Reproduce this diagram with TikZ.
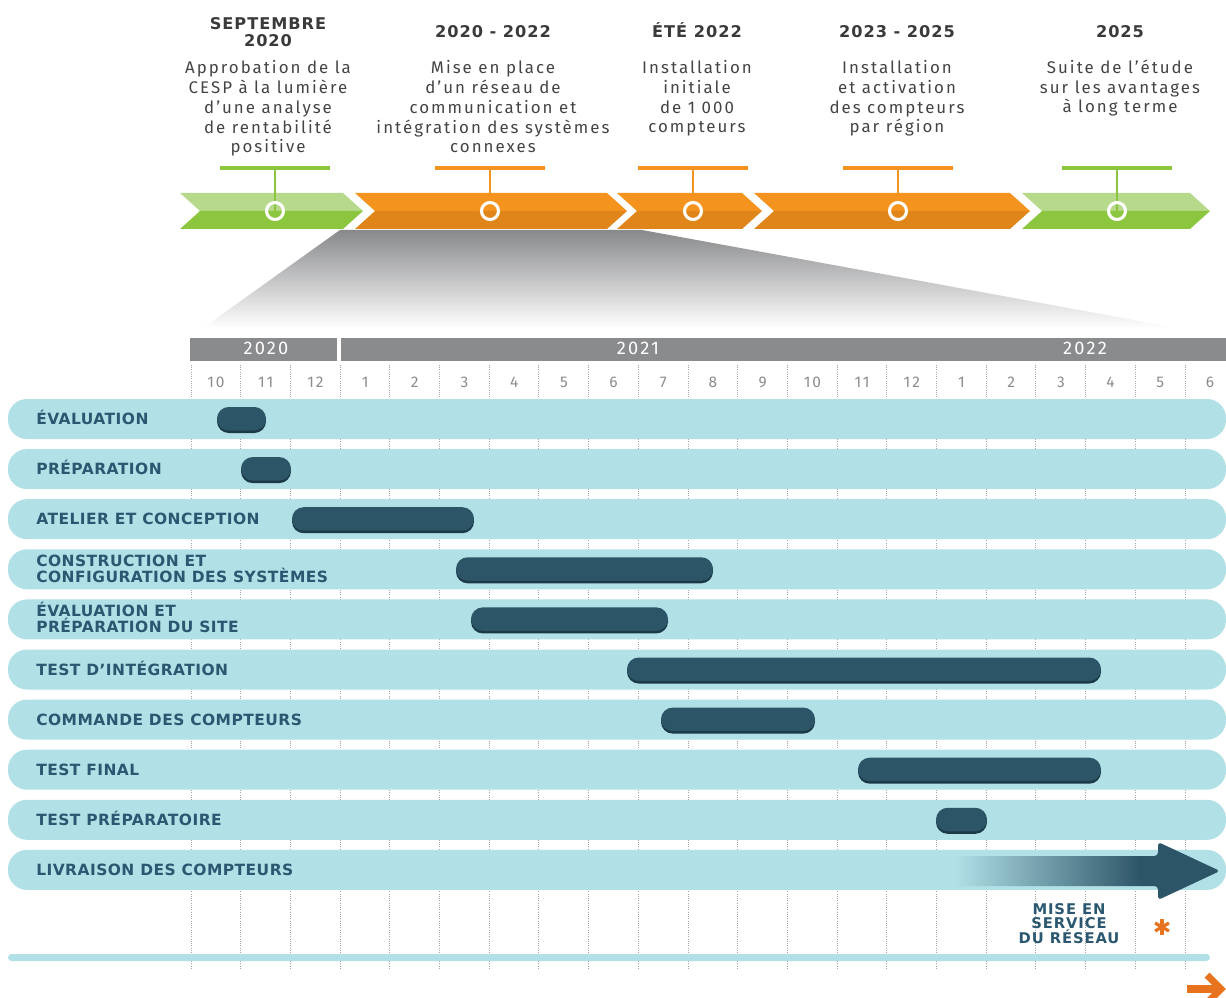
\documentclass[tikz,border=0pt]{standalone}
\usepackage{fontspec}
\usetikzlibrary{arrows.meta}
\setmainfont{Fira Sans}
\newfontfamily\descfont{Fira Sans}[LetterSpace=12]
\newfontfamily\headfont{DejaVu Sans}[LetterSpace=6]
\newfontfamily\taskfont{DejaVu Sans}[LetterSpace=3]

\definecolor{greenlt}{HTML}{B6D98C}
\definecolor{greendk}{HTML}{8CC63F}
\definecolor{orangelt}{HTML}{F5931F}
\definecolor{orangedk}{HTML}{DF851A}
\definecolor{trapgray}{HTML}{88898B}
\definecolor{headgray}{HTML}{8A8B8D}
\definecolor{rowblue}{HTML}{B1E0E7}
\definecolor{bardark}{HTML}{2D5568}
\definecolor{barshade}{HTML}{1B3946}
\definecolor{labelteal}{HTML}{2B5870}
\definecolor{headtext}{HTML}{3A3A3A}
\definecolor{desctext}{HTML}{444444}
\definecolor{monthgray}{HTML}{8C8C8C}
\definecolor{gridgray}{HTML}{A5A5A5}
\definecolor{asterorange}{HTML}{E8731E}

\pgfdeclarehorizontalshading{arrowfade}{100bp}{color(0bp)=(rowblue); color(25bp)=(rowblue); color(60bp)=(bardark); color(100bp)=(bardark)}

% multi-line nodes: anchor=base sits on the last line
\tikzset{
  heading/.style={anchor=base, align=center, inner sep=0pt, text=headtext,
    font=\headfont\bfseries\fontsize{11.5}{12.1}\selectfont},
  descr/.style={anchor=base, align=center, inner sep=0pt, text=desctext,
    font=\descfont\fontsize{12}{14.2}\selectfont},
  month/.style={anchor=base, inner sep=0pt, text=monthgray,
    font=\descfont\fontsize{11}{12}\selectfont},
  year/.style={anchor=base, inner sep=0pt, text=white,
    font=\descfont\fontsize{13}{13}\selectfont},
  tasklabel/.style={anchor=base west, align=left, inner sep=0pt, text=labelteal,
    font=\taskfont\bfseries\fontsize{11}{10.7}\selectfont},
  row/.style={fill=rowblue, rounded corners=13.5pt},
  bar/.style={fill=bardark, rounded corners=8.3pt},
  barshadow/.style={fill=barshade, rounded corners=8.3pt},
  gridline/.style={draw=gridgray, densely dotted, line width=0.6pt},
}

\begin{document}
\begin{tikzpicture}[x=0.025cm, y=-0.025cm]
  \useasboundingbox (0,0) rectangle (1226,998);

  % Chevrons
  \foreach \l/\r/\lt/\dk in {180/343/greenlt/greendk, 355/607/orangelt/orangedk,
      617/742/orangelt/orangedk, 754/1010/orangelt/orangedk, 1022/1190/greenlt/greendk} {
    \fill[\lt] (\l,193) -- (\r,193) -- ({\r+20},211) -- ({\l+20},211) -- cycle;
    \fill[\dk] ({\l+20},211) -- ({\r+20},211) -- (\r,229) -- (\l,229) -- cycle;
  }

  % Milestones
  \foreach \cx/\col in {275/greendk, 490/orangelt, 693/orangelt, 898/orangelt, 1117/greendk} {
    \draw[\col, line width=2.2pt] ({\cx-55},168) -- ({\cx+55},168);
    \draw[\col, line width=1.4pt] (\cx,168) -- (\cx,211);
    \draw[white, line width=2.2pt] (\cx,211) circle (8.5);
  }

  % Headings
  \node[heading] (h1) at (268,47) {SEPTEMBRE\\2020};
  \node[heading] (h2) at (493,38) {2020 - 2022};
  \node[heading] (h3) at (697,38) {ÉTÉ 2022};
  \node[heading] (h4) at (897,38) {2023 - 2025};
  \node[heading] (h5) at (1120,38) {2025};

  \node[descr] (d1) at (268,153) {Approbation de la\\CESP à la lumière\\d’une analyse\\de rentabilité\\positive};
  \node[descr] (d2) at (493,153) {Mise en place\\d’un réseau de\\communication et\\intégration des systèmes\\connexes};
  \node[descr] (d3) at (697,133) {Installation\\initiale\\de 1 000\\compteurs};
  \node[descr] (d4) at (897,133) {Installation\\et activation\\des compteurs\\par région};
  \node[descr] (d5) at (1120,113) {Suite de l’étude\\sur les avantages\\à long terme};

  % Zoom
  \shade[top color=trapgray, bottom color=white] (340,230) -- (642,230) -- (1178,328) -- (203,328) -- cycle;

  % Years and months
  \fill[headgray] (190,338) rectangle (337,361);
  \fill[headgray] (341,338) rectangle (1226,361);
  \node[year] (y20) at (266,355) {2020};
  \node[year] (y21) at (638,355) {2021};
  \node[year] (y22) at (1085,355) {2022};
  \foreach \m [count=\i from 0] in {10,11,12,1,2,3,4,5,6,7,8,9,10,11,12,1,2,3,4,5,6}
    \node[month] (m\i) at ({216+49.7*\i},387) {\m};
  \foreach \k in {0,...,20}
    \draw[gridline] ({191+49.7*\k},365) -- ({191+49.7*\k},968);

  % Rows
  \foreach \i in {0,...,9}
    \fill[row] (8,{419+50.1*\i-20}) rectangle (1226,{419+50.1*\i+20});
  \fill[rowblue, rounded corners=2.5pt] (8,954) rectangle (1210,961);

  % Tasks
  \node[tasklabel] (t1) at (36,424) {ÉVALUATION};
  \node[tasklabel] (t2) at (36,474) {PRÉPARATION};
  \node[tasklabel] (t3) at (36,524) {ATELIER ET CONCEPTION};
  \node[tasklabel] (t4) at (36,582) {CONSTRUCTION ET\\CONFIGURATION DES SYSTÈMES};
  \node[tasklabel] (t5) at (36,632) {ÉVALUATION ET\\PRÉPARATION DU SITE};
  \node[tasklabel] (t6) at (36,675) {TEST D’INTÉGRATION};
  \node[tasklabel] (t7) at (36,725) {COMMANDE DES COMPTEURS};
  \node[tasklabel] (t8) at (36,775) {TEST FINAL};
  \node[tasklabel] (t9) at (36,825) {TEST PRÉPARATOIRE};
  \node[tasklabel] (t10) at (36,875) {LIVRAISON DES COMPTEURS};

  % Bars
  \foreach \i/\a/\b in {0/217/266, 1/241/291, 2/292/474, 3/456/713, 4/471/668,
      5/627/1101, 6/661/815, 7/858/1101, 8/936/987} {
    \fill[barshadow] (\a,{419+50.1*\i-10}) rectangle (\b,{419+50.1*\i+14});
    \fill[bar] (\a,{419+50.1*\i-12}) rectangle (\b,{419+50.1*\i+11.5});
  }
  \shade[shading=arrowfade, rounded corners=2.5pt] (955,856) -- (1158,856) -- (1158,842)
    -- (1220,871) -- (1158,900) -- (1158,886) -- (955,886) -- cycle;

  % Go-live
  \node[heading, text=labelteal, font=\headfont\bfseries\fontsize{10.5}{10}\selectfont] (golive) at (1069,943) {MISE EN\\SERVICE\\DU RÉSEAU};
  \foreach \a in {90,30,150}
    \draw[asterorange, line width=2.3pt] (1162,927) ++(\a:8) -- ++({\a+180}:16);
  \draw[asterorange, line width=5pt] (1187,989) -- (1217,989);
  \draw[asterorange, line width=5pt, miter limit=4] (1207,975) -- (1221,989) -- (1207,1003);
\end{tikzpicture}
\end{document}
